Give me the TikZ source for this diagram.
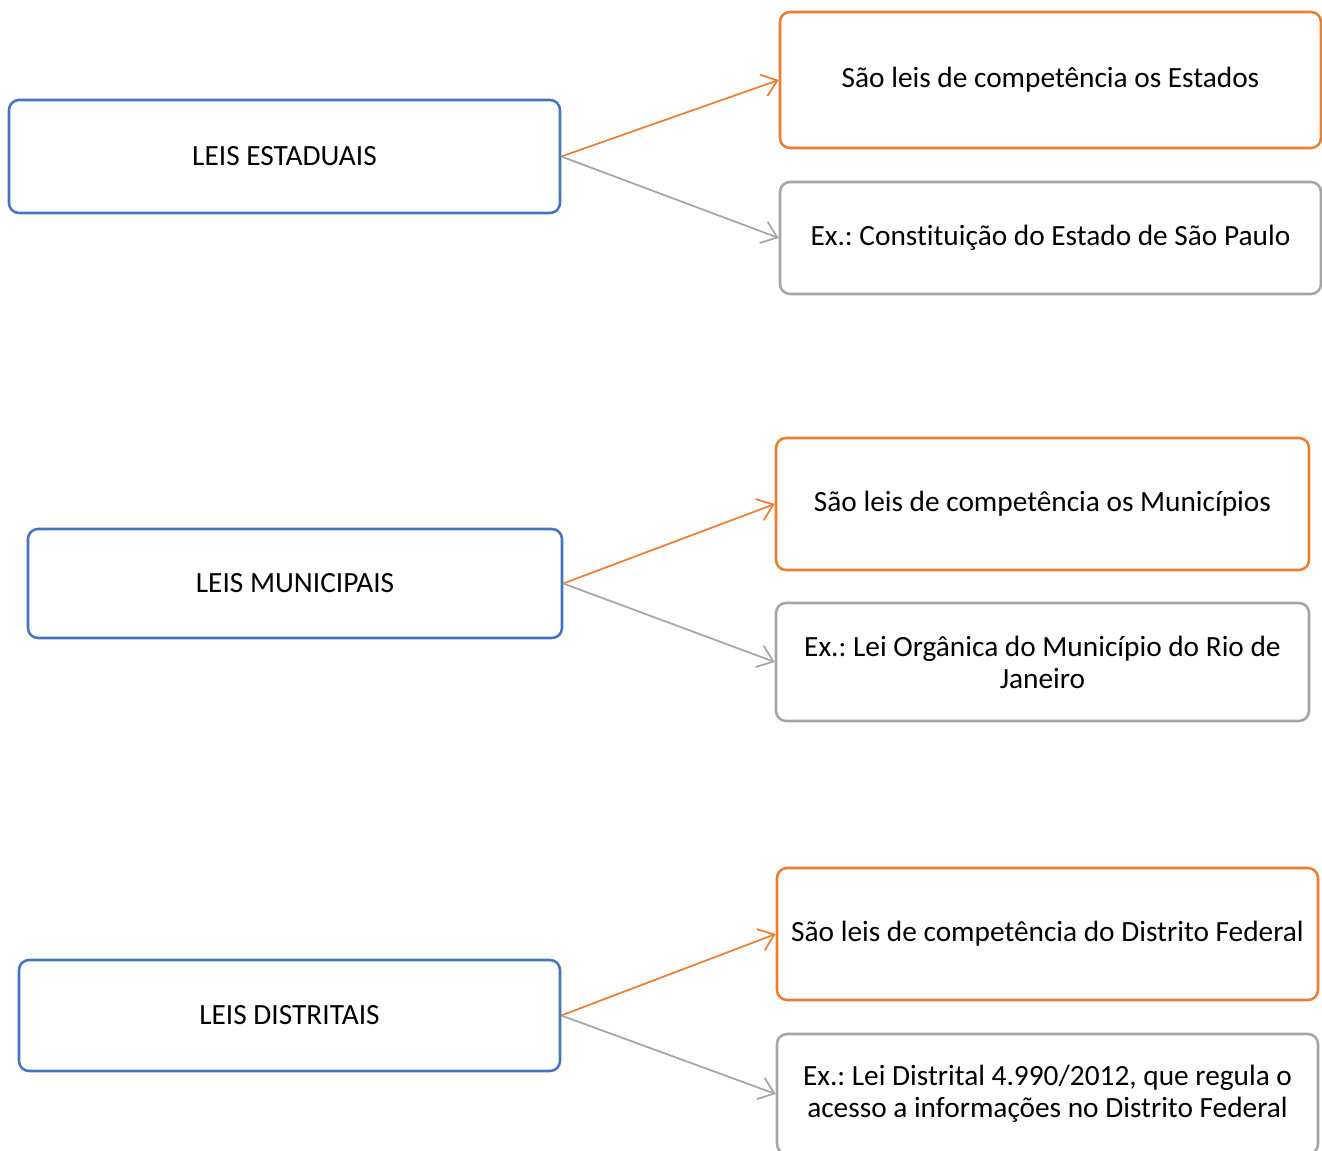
\documentclass[tikz,border=0pt]{standalone}
\usepackage{fontspec}
\setmainfont[Ligatures=NoCommon]{Carlito}
\frenchspacing
\usetikzlibrary{arrows.meta}
\definecolor{cblue}{HTML}{4472C4}
\definecolor{corange}{HTML}{ED7D31}
\definecolor{cgray}{HTML}{A5A5A5}
\begin{document}
\begin{tikzpicture}[x=0.75pt,y=-0.75pt,
  box/.style={draw, rounded corners=7.5pt, line width=1.9pt, align=center, inner sep=0pt, font=\fontsize{22}{24}\selectfont, text=black, fill=white},
  lbox/.style={box, draw=cblue},
  obox/.style={box, draw=corange},
  gbox/.style={box, draw=cgray},
  conn/.style={line width=1.3pt, -{Straight Barb[length=11pt,width=17pt,line width=1.3pt]}},
]
\useasboundingbox (0,0) rectangle (1322,1151);
\clip (0,0) rectangle (1322,1151);
\node[lbox, minimum width=413.25pt, minimum height=84.75pt] (l1) at (284.5,156.5) {\raisebox{-2pt}{LEIS ESTADUAIS}};
\node[lbox, minimum width=400.5pt, minimum height=81.75pt] (l2) at (295,583.5) {\raisebox{-1pt}{LEIS MUNICIPAIS}};
\node[lbox, minimum width=405.75pt, minimum height=83.25pt] (l3) at (289.5,1015.5) {\raisebox{-1pt}{LEIS DISTRITAIS}};

\node[obox, minimum width=405.75pt, minimum height=102pt] (r1) at (1050.5,80) {\raisebox{-2pt}{São leis de competência os Estados}};
\node[gbox, minimum width=405.75pt, minimum height=84pt] (r2) at (1050.5,238) {\raisebox{-1pt}{Ex.: Constituição do Estado de São Paulo}};
\node[obox, minimum width=399.75pt, minimum height=99pt] (r3) at (1042.5,504) {\raisebox{-2pt}{São leis de competência os Municípios}};
\node[gbox, minimum width=399.75pt, minimum height=88.5pt] (r4) at (1042.5,662) {Ex.: Lei Orgânica do Município do Rio de\\Janeiro};
\node[obox, minimum width=405.75pt, minimum height=99pt] (r5) at (1047.5,934) {\raisebox{-2pt}{São leis de competência do Distrito Federal}};
\node[gbox, minimum width=405.75pt, minimum height=90pt] (r6) at (1047.5,1094) {Ex.: Lei Distrital 4.990/2012, que regula o\\acesso a informações no Distrito Federal};

\draw[conn, corange] (l1.east) -- (r1.west);
\draw[conn, cgray] (l1.east) -- (r2.west);
\draw[conn, corange] (l2.east) -- (r3.west);
\draw[conn, cgray] (l2.east) -- (r4.west);
\draw[conn, corange] (l3.east) -- (r5.west);
\draw[conn, cgray] (l3.east) -- (r6.west);
\end{tikzpicture}
\end{document}
